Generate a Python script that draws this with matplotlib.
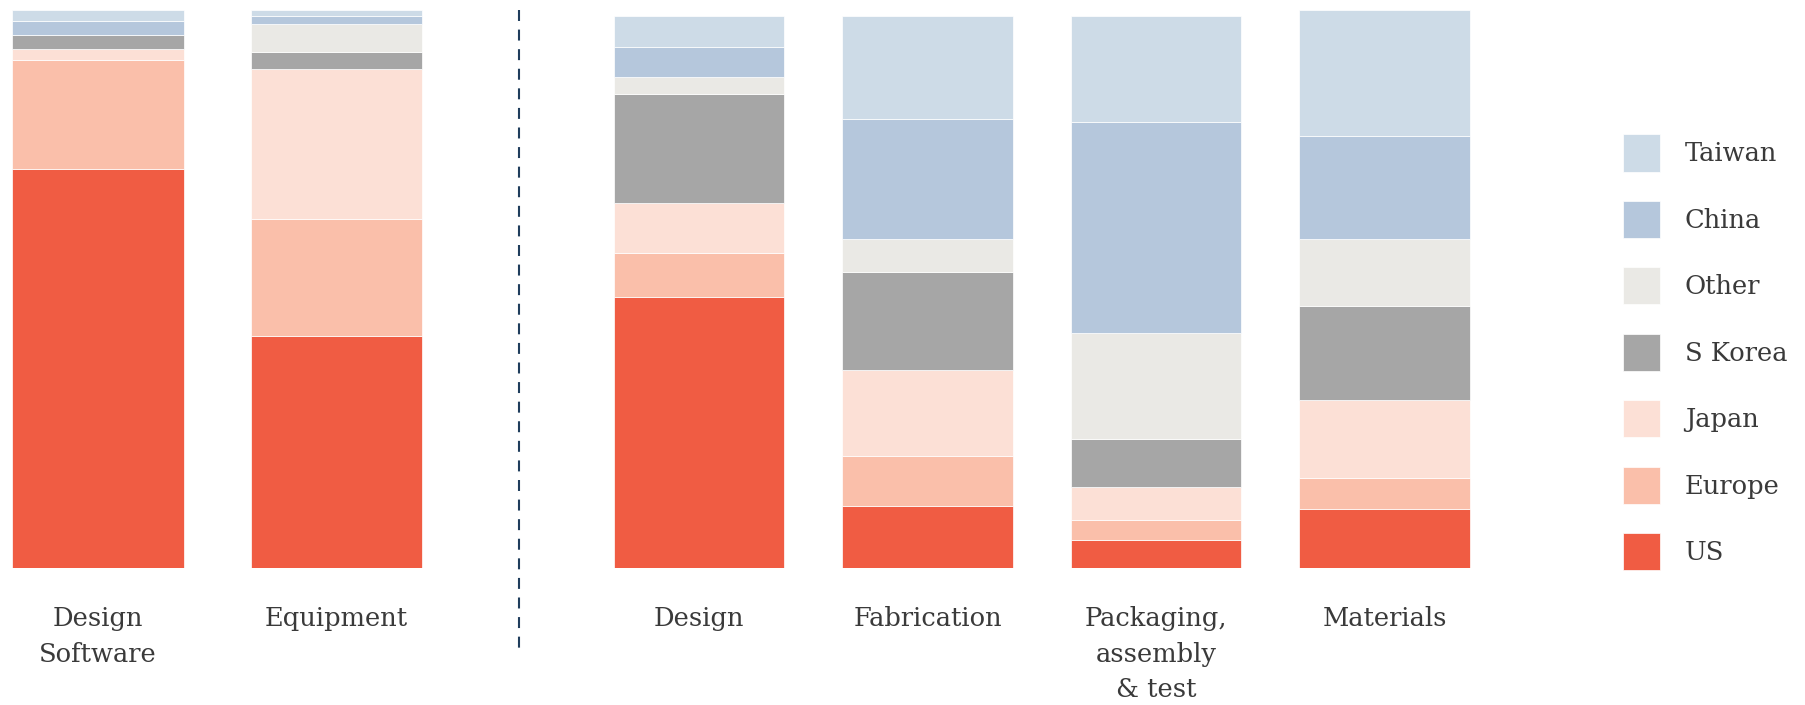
import numpy as np
import matplotlib.pyplot as plt
from matplotlib.patches import Patch
from matplotlib.lines import Line2D

#%% data: share of value added by region (%)

regions = ["US", "Europe", "Japan", "S Korea", "Other", "China", "Taiwan"]
left_cats = ["Design\nSoftware", "Equipment"]
right_cats = ["Design", "Fabrication", "Packaging,\nassembly\n& test", "Materials"]

# order of columns: Design Software, Equipment, Design, Fabrication, Packaging, Materials
us = [71.5, 41.5, 48.5, 11.0, 5.0, 10.5]
europe = [19.5, 21.0, 8.0, 9.0, 3.5, 5.5]
japan = [2.0, 27.0, 9.0, 15.5, 6.0, 14.0]
skorea = [2.5, 3.0, 19.5, 17.5, 8.5, 17.0]
other = [0.0, 5.0, 3.0, 6.0, 19.0, 12.0]
china = [2.5, 1.5, 5.5, 21.5, 38.0, 18.5]
taiwan = [2.0, 1.0, 5.5, 18.5, 19.0, 22.5]

#%% styling

colors = ["#f05c43", "#fabfaa", "#fce0d6", "#a6a6a6", "#eae9e5", "#b5c7dc", "#cddbe7"]
txt_col = "#3a3a3a"
fs = 18.5

plt.rcParams["font.family"] = ["DejaVu Serif"]
plt.rcParams["lines.scale_dashes"] = False

W, H = 1805, 705
fig = plt.figure(figsize=(W / 100, H / 100), dpi=100)

ybot = (H - 567.5) / H
ytop = (H - 10.3) / H

ax_l = fig.add_axes([0, ybot, 460 / W, ytop - ybot])
ax_r = fig.add_axes([580 / W, ybot, 980 / W, ytop - ybot])

series = np.array([us, europe, japan, skorea, other, china, taiwan])


def stack(ax, cats, vals, width):
    x = np.arange(len(cats))
    bottom = np.zeros(len(cats))
    for row, c in zip(vals, colors):
        ax.bar(x, row, width, bottom=bottom, color=c, edgecolor="white", linewidth=0.5)
        bottom += row
    ax.set_ylim(0, 100)
    ax.set_xticks(x)
    ax.set_xticklabels(cats, fontsize=fs, color=txt_col, linespacing=1.52, va="top")
    ax.tick_params(axis="x", length=0, pad=28)
    ax.set_yticks([])
    for s in ax.spines.values():
        s.set_visible(False)


stack(ax_l, left_cats, series[:, :2], 0.72)
ax_l.set_xlim(-97.7 / 238.8, (460 - 97.7) / 238.8)

stack(ax_r, right_cats, series[:, 2:], 0.744)
ax_r.set_xlim(-(699 - 580) / 228.5, (1560 - 699) / 228.5)

# dashed divider between the two groups
fig.add_artist(Line2D([519.3 / W] * 2, [1 - 10 / H, 1 - 656 / H], color="#1f3d5c",
                      linewidth=1.5, linestyle=(0, (7.9, 6.2))))

# legend, Taiwan on top
handles = [Patch(facecolor=c, edgecolor="white", linewidth=0.5) for c in colors][::-1]
fig.legend(handles, regions[::-1], loc="upper left",
           bbox_to_anchor=(1623 / W, 1 - 134.5 / H), frameon=False, fontsize=fs,
           handlelength=37 / 25.7, handleheight=1.84, handletextpad=0.97,
           labelspacing=1.145, borderpad=0, borderaxespad=0, labelcolor=txt_col)

fig.savefig("out.png", dpi=100)
